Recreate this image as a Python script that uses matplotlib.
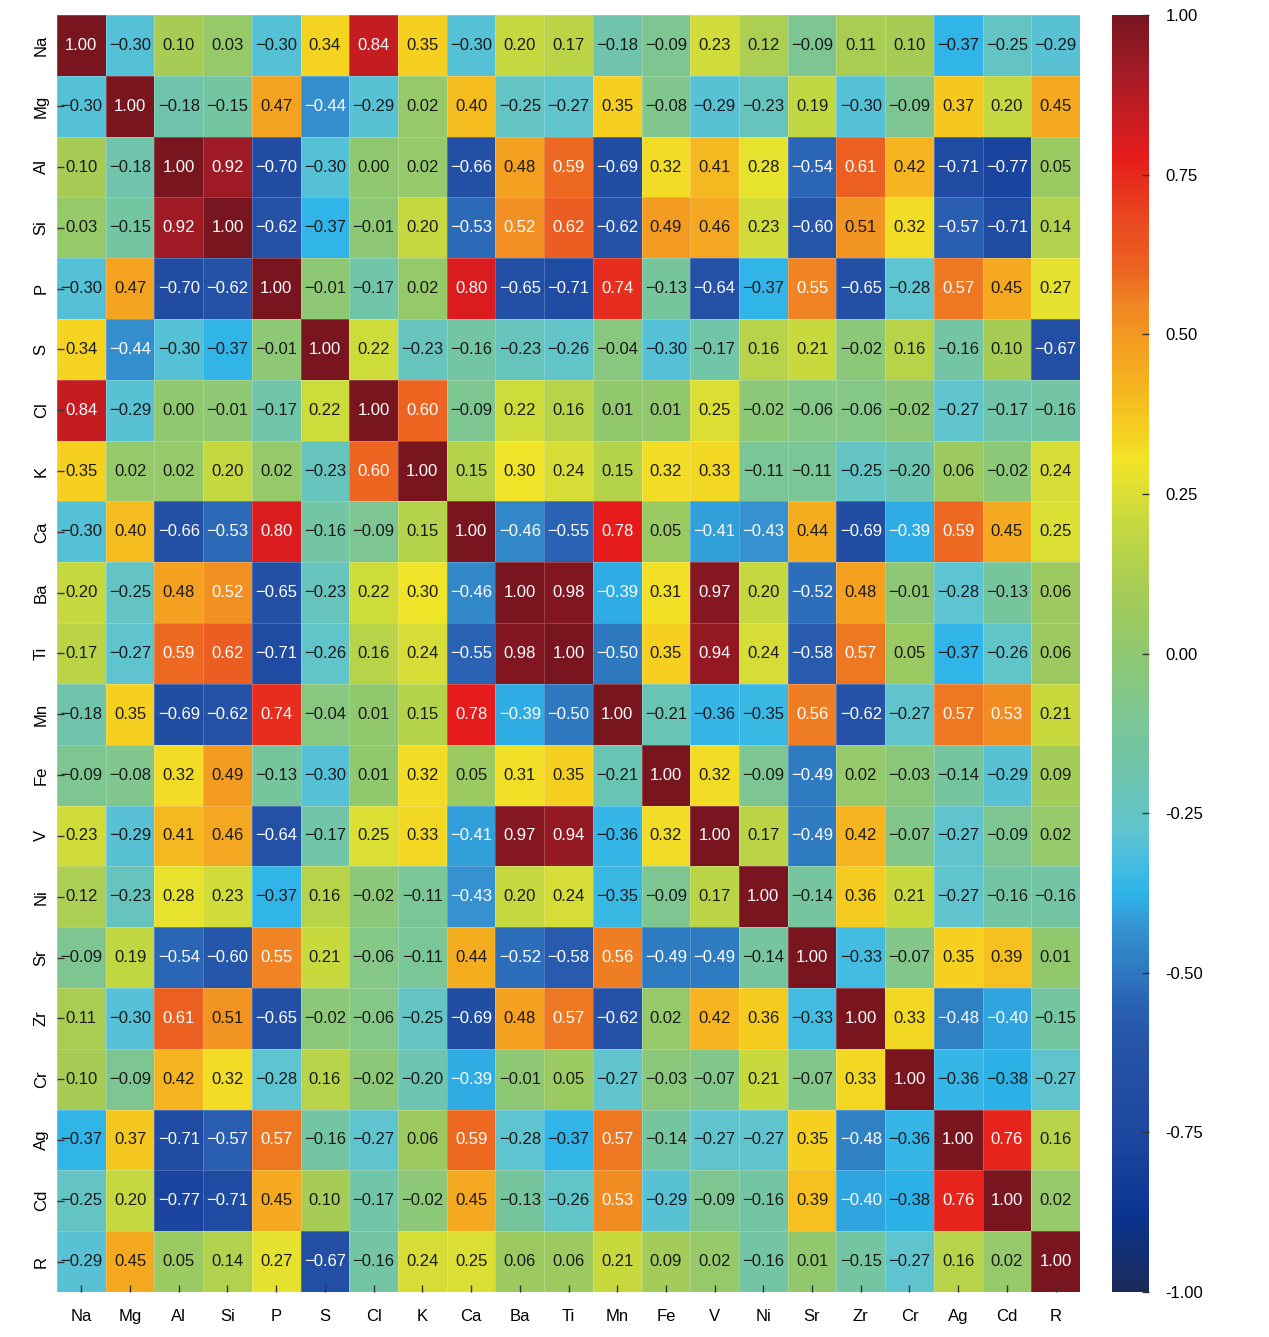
import numpy as np
import matplotlib
matplotlib.use('Agg')
import matplotlib.pyplot as plt
from matplotlib.colors import LinearSegmentedColormap
from matplotlib.ticker import FormatStrFormatter

plt.rcParams['font.family'] = ['Liberation Sans', 'DejaVu Sans']

labels = ['Na', 'Mg', 'Al', 'Si', 'P', 'S', 'Cl', 'K', 'Ca', 'Ba', 'Ti',
          'Mn', 'Fe', 'V', 'Ni', 'Sr', 'Zr', 'Cr', 'Ag', 'Cd', 'R']

na = [1.00, -0.30, 0.10, 0.03, -0.30, 0.34, 0.84, 0.35, -0.30, 0.20, 0.17, -0.18, -0.09, 0.23, 0.12, -0.09, 0.11, 0.10, -0.37, -0.25, -0.29]
mg = [-0.30, 1.00, -0.18, -0.15, 0.47, -0.44, -0.29, 0.02, 0.40, -0.25, -0.27, 0.35, -0.08, -0.29, -0.23, 0.19, -0.30, -0.09, 0.37, 0.20, 0.45]
al = [0.10, -0.18, 1.00, 0.92, -0.70, -0.30, 0.00, 0.02, -0.66, 0.48, 0.59, -0.69, 0.32, 0.41, 0.28, -0.54, 0.61, 0.42, -0.71, -0.77, 0.05]
si = [0.03, -0.15, 0.92, 1.00, -0.62, -0.37, -0.01, 0.20, -0.53, 0.52, 0.62, -0.62, 0.49, 0.46, 0.23, -0.60, 0.51, 0.32, -0.57, -0.71, 0.14]
p = [-0.30, 0.47, -0.70, -0.62, 1.00, -0.01, -0.17, 0.02, 0.80, -0.65, -0.71, 0.74, -0.13, -0.64, -0.37, 0.55, -0.65, -0.28, 0.57, 0.45, 0.27]
s = [0.34, -0.44, -0.30, -0.37, -0.01, 1.00, 0.22, -0.23, -0.16, -0.23, -0.26, -0.04, -0.30, -0.17, 0.16, 0.21, -0.02, 0.16, -0.16, 0.10, -0.67]
cl = [0.84, -0.29, 0.00, -0.01, -0.17, 0.22, 1.00, 0.60, -0.09, 0.22, 0.16, 0.01, 0.01, 0.25, -0.02, -0.06, -0.06, -0.02, -0.27, -0.17, -0.16]
k = [0.35, 0.02, 0.02, 0.20, 0.02, -0.23, 0.60, 1.00, 0.15, 0.30, 0.24, 0.15, 0.32, 0.33, -0.11, -0.11, -0.25, -0.20, 0.06, -0.02, 0.24]
ca = [-0.30, 0.40, -0.66, -0.53, 0.80, -0.16, -0.09, 0.15, 1.00, -0.46, -0.55, 0.78, 0.05, -0.41, -0.43, 0.44, -0.69, -0.39, 0.59, 0.45, 0.25]
ba = [0.20, -0.25, 0.48, 0.52, -0.65, -0.23, 0.22, 0.30, -0.46, 1.00, 0.98, -0.39, 0.31, 0.97, 0.20, -0.52, 0.48, -0.01, -0.28, -0.13, 0.06]
ti = [0.17, -0.27, 0.59, 0.62, -0.71, -0.26, 0.16, 0.24, -0.55, 0.98, 1.00, -0.50, 0.35, 0.94, 0.24, -0.58, 0.57, 0.05, -0.37, -0.26, 0.06]
mn = [-0.18, 0.35, -0.69, -0.62, 0.74, -0.04, 0.01, 0.15, 0.78, -0.39, -0.50, 1.00, -0.21, -0.36, -0.35, 0.56, -0.62, -0.27, 0.57, 0.53, 0.21]
fe = [-0.09, -0.08, 0.32, 0.49, -0.13, -0.30, 0.01, 0.32, 0.05, 0.31, 0.35, -0.21, 1.00, 0.32, -0.09, -0.49, 0.02, -0.03, -0.14, -0.29, 0.09]
v = [0.23, -0.29, 0.41, 0.46, -0.64, -0.17, 0.25, 0.33, -0.41, 0.97, 0.94, -0.36, 0.32, 1.00, 0.17, -0.49, 0.42, -0.07, -0.27, -0.09, 0.02]
ni = [0.12, -0.23, 0.28, 0.23, -0.37, 0.16, -0.02, -0.11, -0.43, 0.20, 0.24, -0.35, -0.09, 0.17, 1.00, -0.14, 0.36, 0.21, -0.27, -0.16, -0.16]
sr = [-0.09, 0.19, -0.54, -0.60, 0.55, 0.21, -0.06, -0.11, 0.44, -0.52, -0.58, 0.56, -0.49, -0.49, -0.14, 1.00, -0.33, -0.07, 0.35, 0.39, 0.01]
zr = [0.11, -0.30, 0.61, 0.51, -0.65, -0.02, -0.06, -0.25, -0.69, 0.48, 0.57, -0.62, 0.02, 0.42, 0.36, -0.33, 1.00, 0.33, -0.48, -0.40, -0.15]
cr = [0.10, -0.09, 0.42, 0.32, -0.28, 0.16, -0.02, -0.20, -0.39, -0.01, 0.05, -0.27, -0.03, -0.07, 0.21, -0.07, 0.33, 1.00, -0.36, -0.38, -0.27]
ag = [-0.37, 0.37, -0.71, -0.57, 0.57, -0.16, -0.27, 0.06, 0.59, -0.28, -0.37, 0.57, -0.14, -0.27, -0.27, 0.35, -0.48, -0.36, 1.00, 0.76, 0.16]
cd = [-0.25, 0.20, -0.77, -0.71, 0.45, 0.10, -0.17, -0.02, 0.45, -0.13, -0.26, 0.53, -0.29, -0.09, -0.16, 0.39, -0.40, -0.38, 0.76, 1.00, 0.02]
r = [-0.29, 0.45, 0.05, 0.14, 0.27, -0.67, -0.16, 0.24, 0.25, 0.06, 0.06, 0.21, 0.09, 0.02, -0.16, 0.01, -0.15, -0.27, 0.16, 0.02, 1.00]

corr = np.array([na, mg, al, si, p, s, cl, k, ca, ba, ti, mn, fe, v, ni, sr, zr, cr, ag, cd, r])

# colour stops (value, colour)
stops = [(-1.00, '#1c2a5a'), (-0.88, '#0a3490'), (-0.75, '#1e48a0'),
         (-0.62, '#2552a6'), (-0.55, '#2a62b4'), (-0.48, '#3080c4'),
         (-0.43, '#3592d0'), (-0.38, '#2cb2e8'), (-0.33, '#44bce2'),
         (-0.28, '#5ec4d0'), (-0.20, '#6cc4b0'), (-0.10, '#7cc694'),
         (0.00, '#90c870'), (0.10, '#a6cc56'), (0.20, '#c4d840'),
         (0.30, '#f0e428'), (0.35, '#f5d020'), (0.42, '#f5b420'),
         (0.48, '#f4a020'), (0.55, '#f08424'), (0.60, '#ec6420'),
         (0.70, '#e8401e'), (0.78, '#e61c1c'), (0.90, '#a81c26'),
         (1.00, '#78151f')]
cmap = LinearSegmentedColormap.from_list(
    'corr', [((val + 1) / 2, col) for val, col in stops], N=512)

fig = plt.figure(figsize=(12.69, 13.37), dpi=100)
ax = fig.add_axes([57 / 1269, 45 / 1337, 1023 / 1269, 1277 / 1337])
cax = fig.add_axes([1112 / 1269, 45 / 1337, 37 / 1269, 1277 / 1337])

n = len(labels)
mesh = ax.pcolormesh(np.arange(n + 1), np.arange(n + 1), corr, cmap=cmap,
                     vmin=-1, vmax=1, edgecolors=(1, 1, 1, 0.2), linewidth=0.5)
ax.set_xlim(0, n)
ax.set_ylim(n, 0)

for i in range(n):
    for j in range(n):
        val = corr[i, j]
        txt_color = 'white' if (val <= -0.385 or val >= 0.515) else '#1a1a1a'
        txt = f'{val:.2f}'.replace('-', '\u2212')
        ax.text(j + 0.5, i + 0.5, txt, ha='center', va='center',
                fontsize=12, color=txt_color)

ax.set_xticks(np.arange(n) + 0.5)
ax.set_yticks(np.arange(n) + 0.5)
ax.set_xticklabels(labels, fontsize=12)
ax.set_yticklabels(labels, fontsize=12, rotation=90, va='center')
ax.tick_params(axis='x', direction='in', length=5, width=1, pad=12, color='#333333')
ax.tick_params(axis='y', direction='in', length=5, width=1, pad=6, color='#333333')
for sp in ax.spines.values():
    sp.set_visible(False)

cb = fig.colorbar(mesh, cax=cax)
cb.outline.set_visible(False)
cb.set_ticks([1.0, 0.75, 0.5, 0.25, 0.0, -0.25, -0.5, -0.75, -1.0])
cb.ax.yaxis.set_major_formatter(FormatStrFormatter('%.2f'))
cb.ax.tick_params(direction='in', length=5, width=1, pad=12, labelsize=12, color='#333333')

fig.savefig('out.png', dpi=100)
